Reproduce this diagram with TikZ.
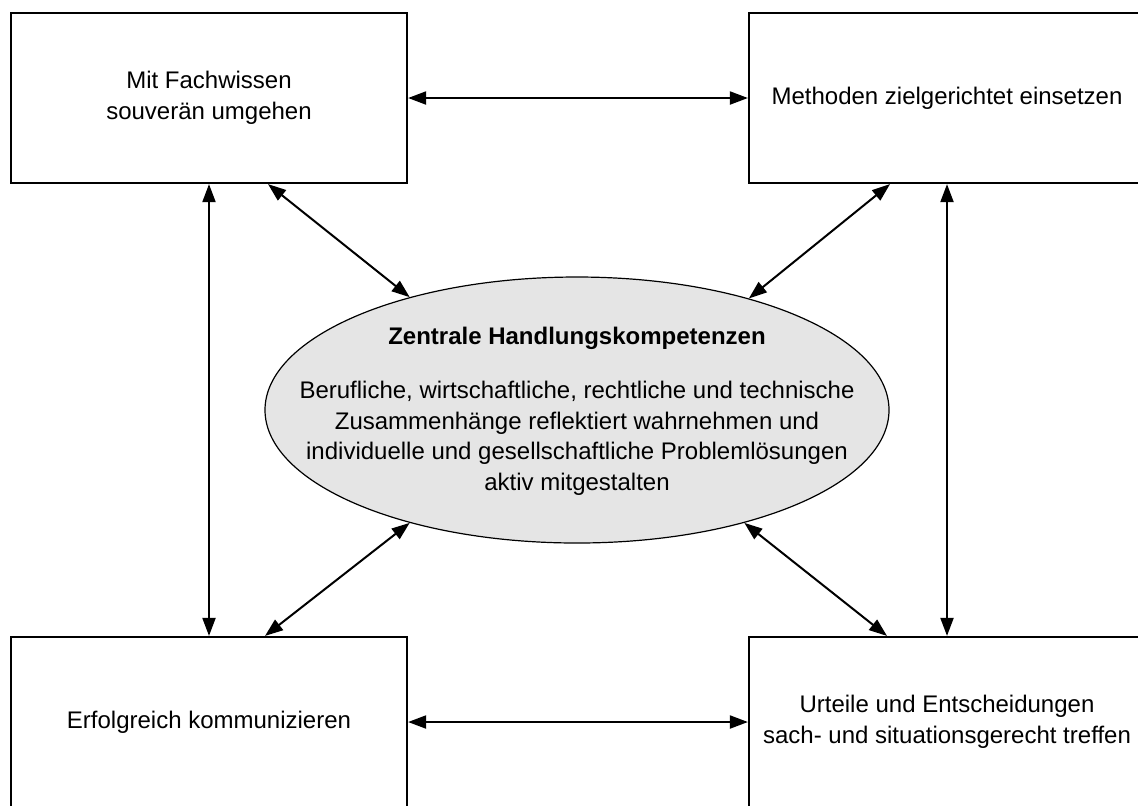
\documentclass[tikz,border=0pt]{standalone}
\usepackage{fontspec}
\setmainfont{Liberation Sans}
\usetikzlibrary{calc,arrows.meta,shapes.geometric}

\begin{document}
\begin{tikzpicture}[x=0.5pt,y=-0.5pt,
		every node/.style={font=\fontsize{12}{15.3}\selectfont},
		feld/.style={draw, line width=1.1pt, minimum width=198pt, minimum height=85pt, align=center, inner sep=0pt},
		kern/.style={draw, ellipse, line width=0.6pt, fill=black!10, minimum width=312pt, minimum height=133pt, inner sep=0pt},
		pfeil/.style={{Triangle[length=9pt,width=6.5pt]}-{Triangle[length=9pt,width=6.5pt]}, line width=1pt}]
				\useasboundingbox (0,0) rectangle (1138,805);
				
				\node[feld] (fach) at (209,98) {Mit Fachwissen\\souverän umgehen};
				\node[feld] (meth) at (947,98) {Methoden zielgerichtet einsetzen};
				\node[feld] (komm) at (209,722) {Erfolgreich kommunizieren};
				\node[feld] (urt) at (947,722) {Urteile und Entscheidungen\\sach- und situationsgerecht treffen};
				
				\node[kern] (kern) at (577,410) {};
				\node[align=center] (kerntext) at (577,411) {\textbf{Zentrale Handlungskompetenzen}\\[12pt]
					Berufliche, wirtschaftliche, rechtliche und technische\\
					Zusammenhänge reflektiert wahrnehmen und\\
					individuelle und gesellschaftliche Problemlösungen\\
					aktiv mitgestalten};
				
				\draw[pfeil] (fach) -- (meth);
				\draw[pfeil] (komm) -- (urt);
				\draw[pfeil] (fach) -- (komm);
				\draw[pfeil] (meth) -- (urt);
				
				\draw[pfeil] ($(fach.south)+(59,0)$) -- (kern.146);
				\draw[pfeil] ($(meth.south)+(-57,0)$) -- (kern.33);
				\draw[pfeil] ($(komm.north)+(56,0)$) -- (kern.214);
				\draw[pfeil] ($(urt.north)+(-60,0)$) -- (kern.326);
			\end{tikzpicture}
\end{document}
